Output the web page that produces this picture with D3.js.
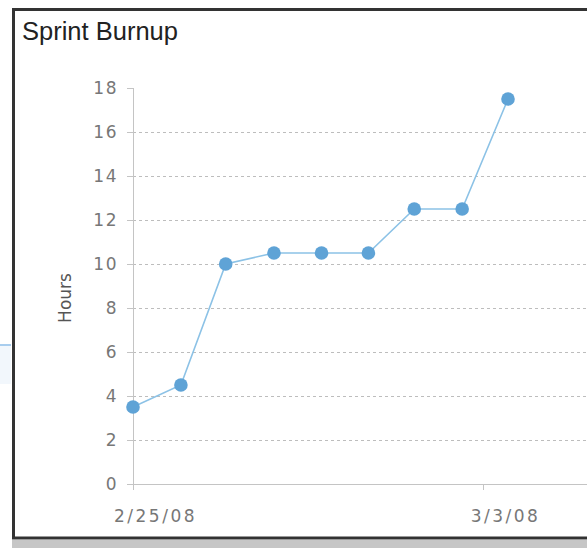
<!DOCTYPE html>
<html>
<head>
<meta charset="utf-8">
<script src="https://cdn.jsdelivr.net/npm/d3@7"></script>
<style>
  body { margin: 0; background: #fff; }
  .tick text { font-family: "DejaVu Sans", Verdana, sans-serif; font-size: 17px; fill: #777; letter-spacing: 1.5px; }
  .domain, .tick line { stroke: #c4c4c4; }
</style>
</head>
<body>
<svg width="587" height="548"></svg>
<script>
// burnup snapshots (time of each snapshot) and hours done
var snapTimes = ["2008-02-25T00:00", "2008-02-25T23:00", "2008-02-26T20:30", "2008-02-27T19:40",
                 "2008-02-28T18:30", "2008-02-29T17:00", "2008-03-01T15:00", "2008-03-02T14:00",
                 "2008-03-03T12:00"];
var hours = [3.5, 4.5, 10, 10.5, 10.5, 10.5, 12.5, 12.5, 17.5];
var yTicks = [0, 2, 4, 6, 8, 10, 12, 14, 16, 18];
var xTickDates = ["2008-02-25T00:00", "2008-03-03T00:00"];

var parse = d3.timeParse("%Y-%m-%dT%H:%M");
var data = snapTimes.map(function(t, i) { return { date: parse(t), value: hours[i] }; });

var svg = d3.select("svg");

// bits of the page behind the chart
svg.append("rect").attr("x", 0).attr("y", 344).attr("width", 11).attr("height", 40).attr("fill", "#f2f7fc");
svg.append("line").attr("x1", 0).attr("x2", 11).attr("y1", 345).attr("y2", 345).attr("stroke", "#a8cdee").attr("stroke-width", 2);
svg.append("rect").attr("x", 12).attr("y", 540).attr("width", 575).attr("height", 8).attr("fill", "#c6c6c6");

// frame
svg.append("rect")
    .attr("x", 13.5).attr("y", 9.5)
    .attr("width", 590).attr("height", 528.5)
    .attr("fill", "#fff")
    .attr("stroke", "#333")
    .attr("stroke-width", 3);

svg.append("text")
    .attr("x", 22).attr("y", 40)
    .style("font-family", "'Liberation Sans', Arial, sans-serif")
    .style("font-size", "25.5px")
    .style("fill", "#222")
    .text("Sprint Burnup");

var x0 = 133, x1 = 483, yBottom = 484, yTop = 88;

var x = d3.scaleTime()
    .domain([parse(xTickDates[0]), parse(xTickDates[1])])
    .range([x0, x1]);

var y = d3.scaleLinear()
    .domain([0, 18])
    .range([yBottom, yTop]);

// dotted grid
svg.append("g").selectAll("line")
    .data(yTicks.filter(function(d) { return d > 0 && d < 18; }))
    .enter().append("line")
    .attr("x1", x0).attr("x2", 587)
    .attr("y1", function(d) { return y(d) + 0.5; })
    .attr("y2", function(d) { return y(d) + 0.5; })
    .attr("stroke", "#bdbdbd")
    .attr("stroke-dasharray", "3,3");

var xAxis = svg.append("g")
    .attr("transform", "translate(0," + yBottom + ")")
    .call(d3.axisBottom(x)
        .tickValues(xTickDates.map(parse))
        .tickSize(6)
        .tickPadding(20)
        .tickSizeOuter(0)
        .tickFormat(d3.timeFormat("%-m/%-d/%y")));
xAxis.select(".domain").attr("d", "M" + x0 + ",0.5H587");
xAxis.selectAll(".tick text").attr("dx", 22).style("letter-spacing", "2.5px");

var yAxis = svg.append("g")
    .attr("transform", "translate(" + x0 + ",0)")
    .call(d3.axisLeft(y)
        .tickValues(yTicks)
        .tickSize(6)
        .tickPadding(9)
        .tickSizeOuter(0));
yAxis.select(".domain").attr("d", "M0.5," + yTop + "V" + (yBottom + 6));

svg.append("text")
    .attr("transform", "translate(71,298) rotate(-90)")
    .style("text-anchor", "middle")
    .style("font-family", "'DejaVu Sans', Verdana, sans-serif")
    .style("font-size", "17px")
    .style("fill", "#555")
    .text("Hours");

var line = d3.line()
    .x(function(d) { return x(d.date); })
    .y(function(d) { return y(d.value); });

svg.append("path")
    .datum(data)
    .attr("d", line)
    .attr("fill", "none")
    .attr("stroke", "#8cc2e6")
    .attr("stroke-width", 1.6);

svg.append("g").selectAll("circle")
    .data(data)
    .enter().append("circle")
    .attr("cx", function(d) { return x(d.date); })
    .attr("cy", function(d) { return y(d.value); })
    .attr("r", 6.8)
    .attr("fill", "#5fa3d6");
</script>
</body>
</html>
